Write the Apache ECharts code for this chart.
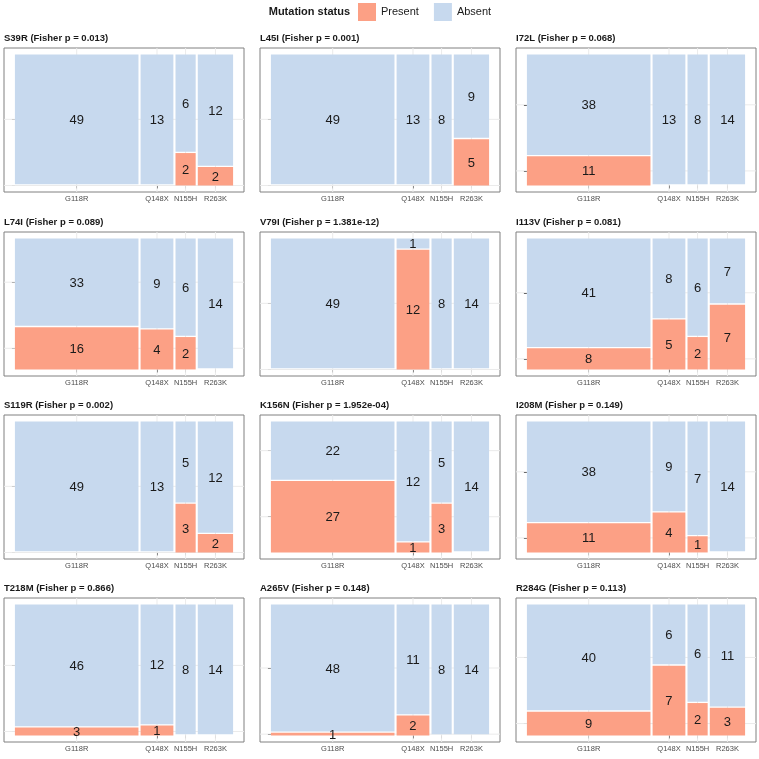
<!DOCTYPE html>
<html>
<head>
<meta charset="utf-8">
<script src="https://cdn.jsdelivr.net/npm/echarts@6/dist/echarts.min.js"></script>
<style>
  html, body { margin: 0; padding: 0; background: #fff; }
  #chart { width: 759px; height: 759px; }
</style>
</head>
<body>
<div id="chart"></div>
<script>
// categorías (columnas del mosaico) y tamaño de cada grupo
const categories = ['G118R', 'Q148X', 'N155H', 'R263K'];
const totals = [49, 13, 8, 14];

// un panel por mutación
const mutations = ['S39R', 'L45I', 'I72L', 'L74I', 'V79I', 'I113V',
                   'S119R', 'K156N', 'I208M', 'T218M', 'A265V', 'R284G'];
const fisherP = ['0.013', '0.001', '0.068', '0.089', '1.381e-12', '0.081',
                 '0.002', '1.952e-04', '0.149', '0.866', '0.148', '0.113'];

// conteo de "Present" por categoría (Absent = total - Present)
const presentCounts = [
  [0, 0, 2, 2],
  [0, 0, 0, 5],
  [11, 0, 0, 0],
  [16, 4, 2, 0],
  [0, 12, 0, 0],
  [8, 5, 2, 7],
  [0, 0, 3, 2],
  [27, 1, 3, 0],
  [11, 4, 1, 0],
  [3, 1, 0, 0],
  [1, 2, 0, 0],
  [9, 7, 2, 3]
];

const statusNames = ['Present', 'Absent'];
const statusColors = ['#FCA085', '#C7D9EE'];

// [A] geometría del mosaico (espaciado tipo ggmosaic)
const GAP = 0.01;
const N = totals.reduce((a, b) => a + b, 0);
const xStarts = [];
let acc = 0;
totals.forEach(t => { xStarts.push(acc); acc += t / N + GAP; });
const xEnd = acc - GAP;
const xCenters = totals.map((t, j) => xStarts[j] + t / N / 2);
const yEnd = 1 + GAP;

// [B] posición de los paneles
const panelLefts = [4, 260, 516];
const panelTops = [48, 232, 415, 598];
const panelW = 240;
const panelH = 144;

const grids = [], xAxes = [], yAxes = [], series = [], titles = [];

function rectData(i, status) {
  return presentCounts[i].map((p, j) => {
    const t = totals[j];
    const frac = p / t;
    const x0 = xStarts[j], x1 = xStarts[j] + t / N;
    if (status === 0) return [x0, x1, 0, frac, p];
    return [x0, x1, frac + GAP, yEnd, t - p];
  });
}

function renderRect(params, api) {
  const count = api.value(4);
  if (count <= 0) return null;
  const p0 = api.coord([api.value(0), api.value(2)]);
  const p1 = api.coord([api.value(1), api.value(3)]);
  const x = p0[0], y = p1[1], w = p1[0] - p0[0], h = p0[1] - p1[1];
  return {
    type: 'group',
    children: [
      { type: 'rect', shape: { x, y, width: w, height: h },
        style: { fill: api.visual('color') } },
      { type: 'text', z2: 10,
        style: { text: String(count), x: x + w / 2, y: y + h / 2 + 1,
                 align: 'center', verticalAlign: 'middle',
                 fontSize: 13, fontFamily: 'Liberation Sans', fill: '#1a1a1a' } }
    ]
  };
}

mutations.forEach((m, i) => {
  const row = Math.floor(i / 3), col = i % 3;
  const left = panelLefts[col], top = panelTops[row];
  grids.push({ left, top, width: panelW, height: panelH, show: true,
               borderColor: '#808080', borderWidth: 1, backgroundColor: '#fff' });

  const f0 = presentCounts[i][0] / totals[0];
  const yCenters = [f0 / 2, (f0 + GAP + yEnd) / 2];

  xAxes.push({
    type: 'value', gridIndex: i,
    min: -0.05 * xEnd, max: xEnd * 1.05,
    axisLine: { show: false },
    splitLine: { show: false },
    axisTick: { show: true, customValues: xCenters, length: 3,
                lineStyle: { color: '#333' } },
    axisLabel: { show: true, customValues: xCenters, margin: 3,
                 fontSize: 7.5, color: '#4d4d4d', fontFamily: 'Liberation Sans',
                 formatter: v => {
                   let best = 0;
                   xCenters.forEach((c, j) => { if (Math.abs(c - v) < Math.abs(xCenters[best] - v)) best = j; });
                   return categories[best];
                 } }
  });
  yAxes.push({
    type: 'value', gridIndex: i,
    min: -0.05 * yEnd, max: yEnd * 1.05,
    axisLine: { show: false },
    splitLine: { show: false },
    axisTick: { show: true, customValues: yCenters, length: 3,
                lineStyle: { color: '#333' } },
    axisLabel: { show: false }
  });

  // líneas de cuadrícula en los centros de las categorías
  series.push({
    type: 'custom', xAxisIndex: i, yAxisIndex: i, silent: true, z: 1,
    data: [[0]],
    renderItem: (params, api) => {
      const cs = params.coordSys;
      const lines = [];
      xCenters.forEach(c => {
        const px = api.coord([c, 0])[0];
        lines.push({ type: 'line', shape: { x1: px, y1: cs.y, x2: px, y2: cs.y + cs.height },
                     style: { stroke: '#ebebeb', lineWidth: 1 } });
      });
      yCenters.forEach(c => {
        const py = api.coord([0, c])[1];
        lines.push({ type: 'line', shape: { x1: cs.x, y1: py, x2: cs.x + cs.width, y2: py },
                     style: { stroke: '#ebebeb', lineWidth: 1 } });
      });
      return { type: 'group', children: lines };
    }
  });

  statusNames.forEach((name, s) => {
    series.push({
      name, type: 'custom', xAxisIndex: i, yAxisIndex: i, z: 2,
      itemStyle: { color: statusColors[s] },
      encode: { x: [0, 1], y: [2, 3] },
      data: rectData(i, s),
      renderItem: renderRect
    });
  });

  titles.push({
    text: `${m} (Fisher p = ${fisherP[i]})`,
    left: left, top: top - 15, padding: 0,
    textStyle: { fontSize: 9.5, fontWeight: 'bold', color: '#1a1a1a',
                 fontFamily: 'Liberation Sans' }
  });
});

const chart = echarts.init(document.getElementById('chart'), null, { renderer: 'canvas' });
chart.setOption({
  animation: false,
  backgroundColor: '#fff',
  title: titles,
  legend: {
    data: statusNames, top: 3, left: 358, icon: 'rect', padding: 0,
    itemWidth: 18, itemHeight: 18, itemGap: 15, selectedMode: false,
    textStyle: { fontSize: 11, color: '#1a1a1a', fontFamily: 'Liberation Sans' }
  },
  graphic: [{
    type: 'text', right: 759 - 350, top: 6,
    style: { text: 'Mutation status', fontSize: 11, fontWeight: 'bold',
             fill: '#1a1a1a', fontFamily: 'Liberation Sans' }
  }],
  grid: grids,
  xAxis: xAxes,
  yAxis: yAxes,
  series
});
</script>
</body>
</html>
